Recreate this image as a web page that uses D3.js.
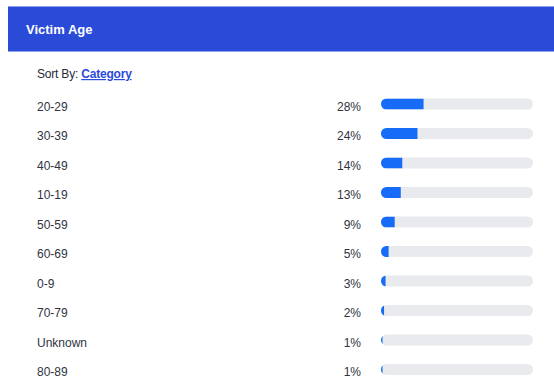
<!DOCTYPE html>
<html>
<head>
<meta charset="utf-8">
<script src="https://cdn.jsdelivr.net/npm/d3@7"></script>
<style>
  html, body { margin: 0; padding: 0; background: #fff; }
  svg { display: block; font-family: "Liberation Sans", Arial, Helvetica, sans-serif; }
</style>
</head>
<body>
<svg id="chart" width="554" height="379"></svg>
<script>
// Victim age distribution, sorted by share
const categories = ["20-29", "30-39", "40-49", "10-19", "50-59", "60-69", "0-9", "70-79", "Unknown", "80-89"];
const shares = [28, 24, 14, 13, 9, 5, 3, 2, 1, 1];
const title = "Victim Age";
const sortLabel = "Sort By:";
const sortValue = "Category";

const svg = d3.select("#chart");
const W = 554, H = 379;

// Header band
svg.append("rect").attr("x", 8).attr("y", 6).attr("width", W - 8).attr("height", 46)
  .attr("fill", "#2a4bd8");
svg.append("rect").attr("x", 8).attr("y", 6).attr("width", W - 8).attr("height", 1)
  .attr("fill", "#8fa3ea");
svg.append("rect").attr("x", 8).attr("y", 51).attr("width", W - 8).attr("height", 1)
  .attr("fill", "#8fa3ea");
svg.append("text").attr("x", 26).attr("y", 34).attr("fill", "#fff")
  .attr("font-size", 13).attr("font-weight", "bold").text(title);

// Sort control
const sort = svg.append("text").attr("x", 37).attr("y", 78).attr("font-size", 12)
  .attr("letter-spacing", -0.2).attr("fill", "#262b38");
sort.append("tspan").text(sortLabel + " ");
sort.append("tspan").attr("font-weight", "bold").attr("fill", "#2a4bd8")
  .attr("text-decoration", "underline").text(sortValue);

// Layout scales
const y = d3.scalePoint().domain(categories).range([104, 369.5]);
const x = d3.scaleLinear().domain([0, 100]).range([381, 533]);
const barH = 11;

const rows = svg.append("g").selectAll("g").data(categories).join("g")
  .attr("transform", d => `translate(0,${y(d)})`);

rows.append("text").attr("x", 37).attr("y", 6.5).attr("font-size", 12).attr("fill", "#2f3442")
  .text(d => d);

rows.append("text").attr("x", 361).attr("y", 6.5).attr("font-size", 12).attr("fill", "#2f3442")
  .attr("text-anchor", "end").text((d, i) => shares[i] + "%");

// Clip each fill to its rounded track
const defs = svg.append("defs");
categories.forEach((c, i) => {
  defs.append("clipPath").attr("id", "clip" + i)
    .append("rect").attr("x", x(0)).attr("y", -barH / 2)
    .attr("width", x(100) - x(0)).attr("height", barH).attr("rx", barH / 2);
});

rows.append("rect").attr("x", x(0)).attr("y", -barH / 2)
  .attr("width", x(100) - x(0)).attr("height", barH).attr("rx", barH / 2)
  .attr("fill", "#e8eaed");

rows.append("rect").attr("clip-path", (d, i) => `url(#clip${i})`)
  .attr("x", x(0)).attr("y", -barH / 2)
  .attr("width", (d, i) => x(shares[i]) - x(0)).attr("height", barH)
  .attr("fill", "#166cf6");
</script>
</body>
</html>
